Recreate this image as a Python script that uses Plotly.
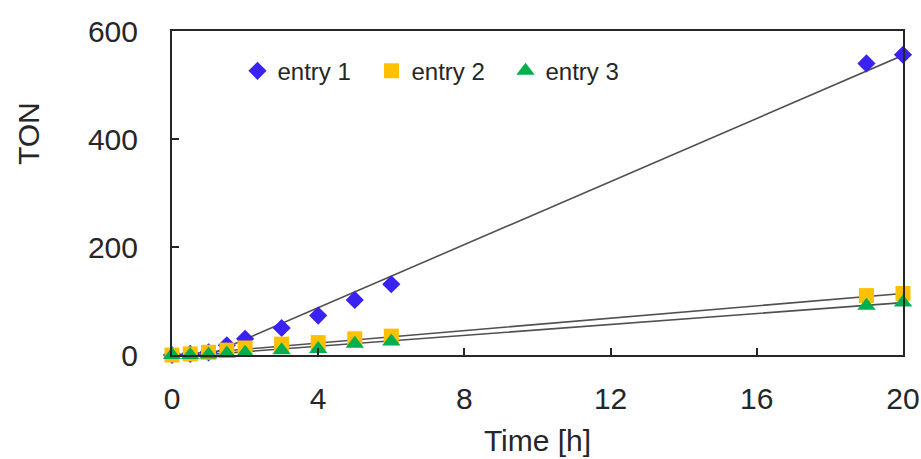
import plotly.graph_objects as go

time_h = [0, 0.5, 1, 1.5, 2, 3, 4, 5, 6, 19, 20]
entry1 = [0, 2, 5, 18, 30, 50, 73, 102, 131, 540, 556]
entry2 = [0, 2, 5, 9, 13, 20, 23, 30, 35, 110, 114]
entry3 = [0, 0, 1, 3, 4, 9, 11, 21, 25, 91, 97]

trend_x = [0, 1, 20]
trend1 = [0, 0, 555]
trend2 = [0, 5, 114]
trend3 = [0, 1, 97]

names = ["entry 1", "entry 2", "entry 3"]
colors = ["#3A22F0", "#FFC000", "#00B050"]
symbols = ["diamond", "square", "triangle-up"]
sizes = [14, 15, 16]

FONT = "Liberation Sans, Arial, sans-serif"
fig = go.Figure()

for ty in [trend1, trend2, trend3]:
    fig.add_trace(go.Scatter(x=trend_x, y=ty, mode="lines",
                             line=dict(color="#505050", width=1.6),
                             showlegend=False, hoverinfo="skip"))

for name, ys, c, s, sz in zip(names, [entry1, entry2, entry3], colors, symbols, sizes):
    fig.add_trace(go.Scatter(x=time_h, y=ys, mode="markers", name=name,
                             marker=dict(color=c, symbol=s, size=sz, line=dict(width=0)),
                             cliponaxis=False))

axis_common = dict(showgrid=False, zeroline=False, showline=True, linecolor="#262626",
                   linewidth=2, mirror=True, ticks="inside", ticklen=7, tickwidth=1.5,
                   tickcolor="#262626", automargin=False,
                   tickfont=dict(family=FONT, size=30, color="#262626"))

fig.update_layout(
    width=921, height=459,
    margin=dict(l=172, r=18, t=31, b=104),
    paper_bgcolor="white", plot_bgcolor="white",
    font=dict(family=FONT, color="#262626"),
    xaxis=dict(range=[0, 20], tickvals=[0, 4, 8, 12, 16, 20], ticklabelstandoff=16,
               title=dict(text="Time [h]", font=dict(family=FONT, size=30), standoff=16),
               **axis_common),
    yaxis=dict(range=[0, 600], tickvals=[0, 200, 400, 600], ticklabelstandoff=26,
               **axis_common),
    legend=dict(orientation="h", x=0.0896, y=0.876, xanchor="left", yanchor="middle",
                font=dict(family=FONT, size=24, color="#262626"), bgcolor="rgba(0,0,0,0)",
                itemwidth=30, entrywidth=89, entrywidthmode="pixels"),
    annotations=[dict(text="TON", textangle=-90, xref="paper", yref="paper",
                      x=-0.197, y=0.685, xanchor="center", yanchor="middle",
                      showarrow=False, font=dict(family=FONT, size=30, color="#262626"))],
)

fig.write_html("out.html", config={"displayModeBar": False},
               post_script="document.body.style.margin='0';document.body.style.overflow='hidden';")
